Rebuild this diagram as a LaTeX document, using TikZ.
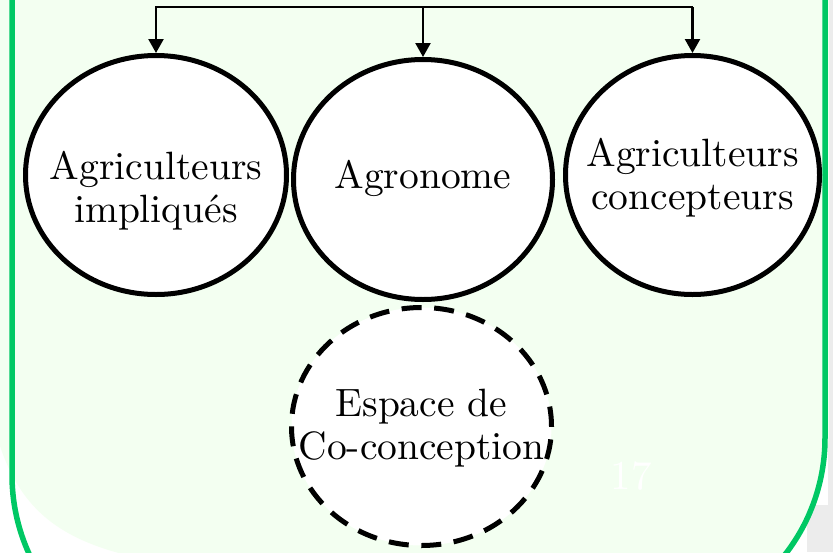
\documentclass[tikz,border=0pt]{standalone}
\usepackage{graphicx}
\usetikzlibrary{shapes.geometric,arrows.meta}
\definecolor{framegreen}{RGB}{0,200,100}
\definecolor{panelfill}{RGB}{243,255,241}
\definecolor{shadowgray}{RGB}{236,236,236}
% large text set in the 10pt design and enlarged; optional argument lowers it
\newcommand\bigtext[2][0pt]{\raisebox{-#1}[\height][\depth]{\scalebox{3.95}{%
  \fontsize{10}{10.9}\selectfont\begin{tabular}{@{}c@{}}#2\end{tabular}}}}
\begin{document}
\begin{tikzpicture}[x=1pt,y=1pt,
  actor/.style={ellipse, draw=black, line width=5pt, fill=white,
    inner xsep=-40pt, inner ysep=0pt},
  space/.style={actor, dash pattern=on 20pt off 12.6pt},
  link/.style={line width=2.4pt, -{Triangle[length=14pt,width=15pt]}},
  ]
\useasboundingbox (0,0) rectangle (833,-552);
\clip (0,0) rectangle (833,-552);
\fill[white] (0,0) rectangle (833,-552);
% shadow strips along the right edge
\fill[shadowgray] (828,0) rectangle (833,-552);
\fill[shadowgray] (807,-505) rectangle (828,-552);
\fill[shadowgray] (782,-528) rectangle (789,-552);
% panel background
\fill[panelfill] (-10,10) -- (829,10) -- (829,-430)
  .. controls (829,-480) and (795,-535) .. (775,-570)
  -- (160,-562)
  .. controls (60,-545) and (20,-510) .. (-2,-440)
  -- (-10,-400) -- cycle;
% panel border
\draw[framegreen, line width=5.5pt] (12,10) -- (12,-475)
  arc[start angle=180, end angle=270, radius=190pt] -- (635,-628)
  arc[start angle=-90, end angle=0, radius=190pt] -- (825,10);
% slide number
\node[text=white, inner sep=0pt] (num) at (631,-476.5) {\scalebox{4.1}{17}};
% actors
\node[actor, minimum width=261pt, minimum height=239pt] (impl) at (156,-175)
  {\bigtext[17pt]{Agriculteurs\\impliqués}};
\node[actor, minimum width=259pt, minimum height=240pt] (agro) at (423,-179.5)
  {\bigtext{Agronome}};
\node[actor, minimum width=254pt, minimum height=239pt] (conc) at (692.5,-175)
  {\bigtext[4pt]{Agriculteurs\\concepteurs}};
\node[space, minimum width=260pt, minimum height=238pt] (espace) at (421.5,-426.5)
  {\bigtext[2.5pt]{Espace de\\Co-conception}};
% distribution bar
\coordinate (t1) at (156,-7);
\coordinate (t2) at (423,-7);
\coordinate (t3) at (692.5,-7);
\draw[link] (t3) -- (t1) -- (impl.north);
\draw[link] (t2) -- (agro.north);
\draw[link] (t3) -- (conc.north);
\end{tikzpicture}
\end{document}
